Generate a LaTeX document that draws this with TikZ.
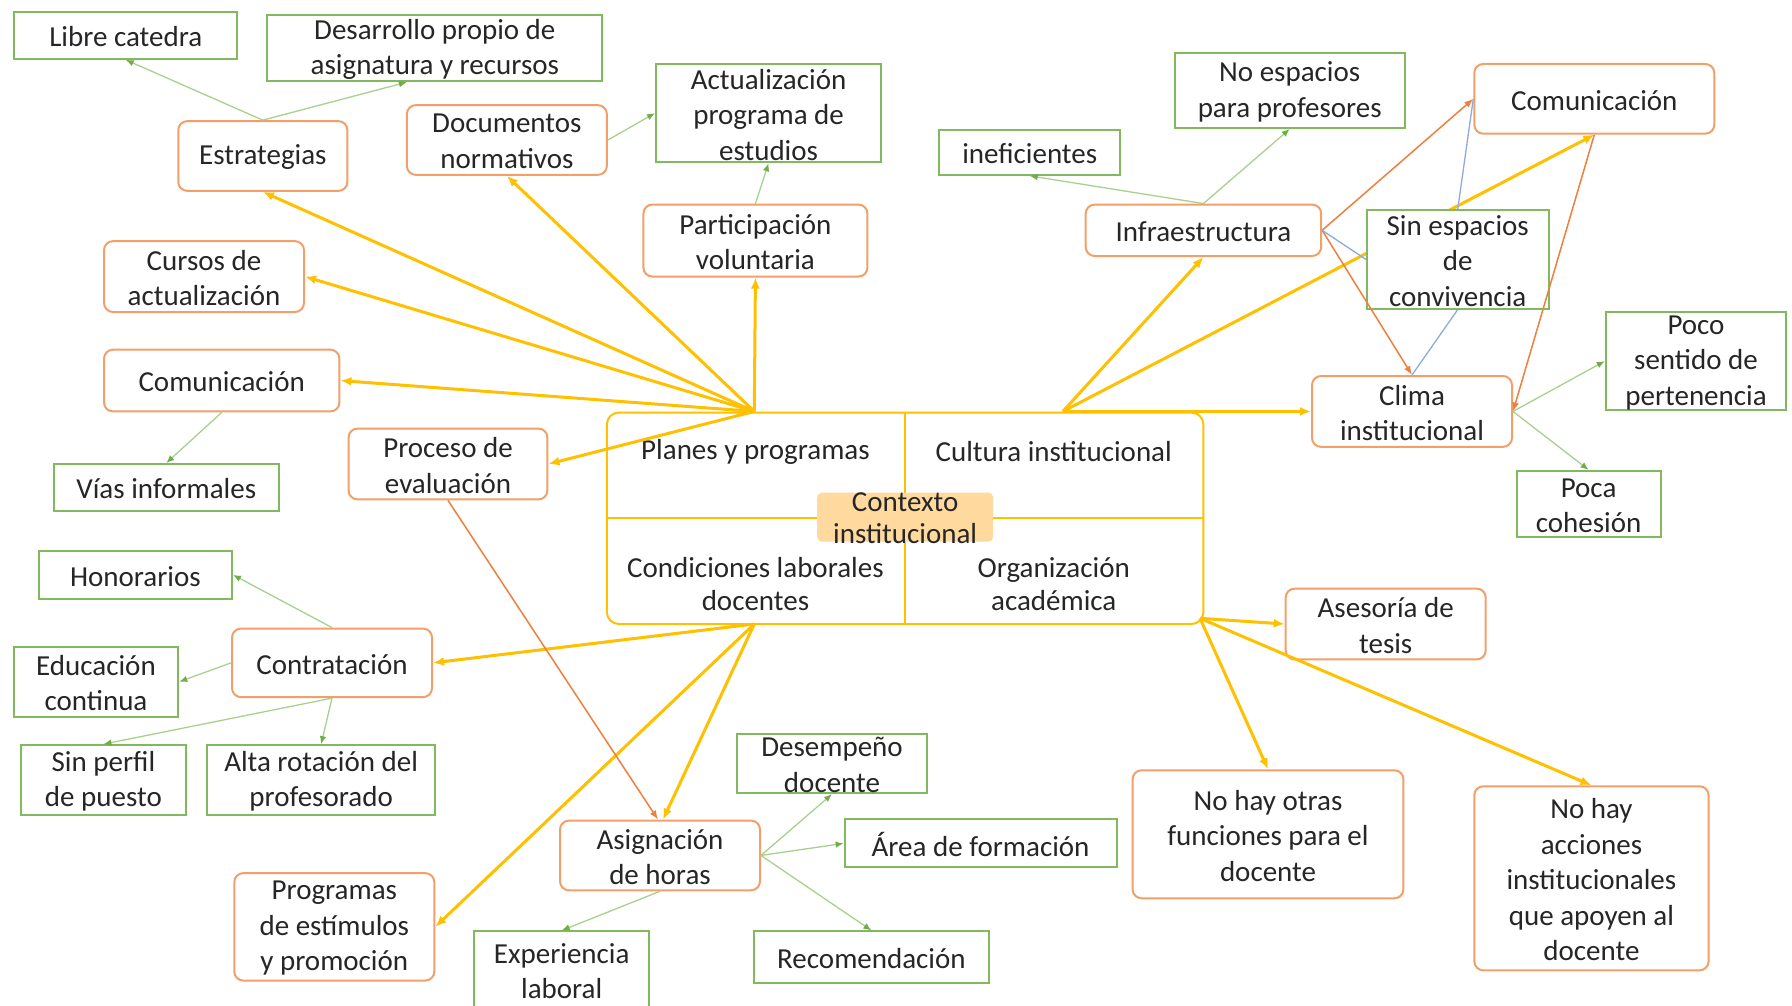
\documentclass[tikz,border=0pt]{standalone}
\usepackage{fontspec}
\setmainfont{Carlito}
\usetikzlibrary{arrows.meta,calc}
\pgfdeclarelayer{background}
\pgfdeclarelayer{bottom}
\pgfsetlayers{bottom,background,main}
\definecolor{yel}{RGB}{255,192,0}
\definecolor{orb}{RGB}{242,160,105}
\definecolor{orl}{RGB}{238,128,62}
\definecolor{grb}{RGB}{130,185,95}
\definecolor{grl}{RGB}{169,209,142}
\definecolor{grd}{RGB}{112,173,71}
\definecolor{blu}{RGB}{143,170,220}
\definecolor{ctxf}{RGB}{255,217,158}
\definecolor{tc}{RGB}{38,38,38}
\newcommand\mybox[6]{%
  \node[#1, minimum width={#3*1.142857pt}, minimum height={#4*1.142857pt}] (#2) at (#5) {};
  \node[txt] (#2t) at ([yshift=-1.5pt]#2.center) {#6};}
\begin{document}
\begin{tikzpicture}[x=1.142857pt,y=-1.142857pt,
  obox/.style={draw=orb, line width=2pt, rounded corners=9pt, fill=white, inner sep=0pt},
  gbox/.style={draw=grb, line width=2pt, fill=white, inner sep=0pt},
  txt/.style={font=\fontsize{29}{35.4}\selectfont, align=center, inner sep=0pt, text=tc},
  yarr/.style={draw=yel, line width=3pt, -{Latex[length=11pt,width=9pt]}},
  oarr/.style={draw=orl, line width=1.5pt, -{Latex[length=9pt,width=7pt]}},
  garr/.style={draw=grl, line width=1.3pt, -{Latex[length=8pt,width=6.5pt,color=grd]}},
  bl/.style={draw=blu, line width=1.3pt}]
\begin{pgfonlayer}{bottom}
\fill[white] (0,0) rectangle (1568,880);
\end{pgfonlayer}
\useasboundingbox (0,0) rectangle (1568,880);

% central box
\node[draw=yel, line width=2pt, rounded corners=12pt, minimum width={522*1.142857pt}, minimum height={185*1.142857pt}, inner sep=0pt] (ctx) at (792,453.5) {};
\draw[yel, line width=2pt] (ctx.north) -- (ctx.south);
\draw[yel, line width=2pt] (ctx.west) -- (ctx.east);
\node[fill=ctxf, rounded corners=5pt, minimum width={154*1.142857pt}, minimum height={43*1.142857pt}, inner sep=0pt] (ctxbg) at (792,452.5) {};
\node[txt, font=\fontsize{29}{32}\selectfont] (ctxt) at ([yshift=-1.5pt]ctxbg.center) {Contexto\\institucional};
\node[txt] (plan) at (661,395.5) {Planes y programas};
\node[txt] (cult) at (922,395.5) {Cultura institucional};
\node[txt, font=\fontsize{29}{33}\selectfont] (cond) at (661,511) {Condiciones laborales\\docentes};
\node[txt, font=\fontsize{29}{33}\selectfont] (orga) at (922,511) {Organización\\académica};

\coordinate (hPP) at (660,360);
\coordinate (hCI) at (930,360);
\coordinate (hCL) at (660,546);
\coordinate (hOA) at (1050,541);

% boxes
\mybox{gbox}{libre}{195}{41}{110,31}{Libre catedra}
\mybox{gbox}{desa}{293}{58}{380.5,42}{Desarrollo propio de\\asignatura y recursos}
\mybox{obox}{estr}{148}{61}{230,136.5}{Estrategias}
\mybox{obox}{docu}{175}{61}{443.5,122.5}{Documentos\\normativos}
\mybox{gbox}{actu}{197}{86}{672.5,99}{Actualización\\programa de\\estudios}
\mybox{obox}{part}{196}{63}{661,210.5}{Participación\\voluntaria}
\mybox{obox}{curs}{175}{62}{178.5,242}{Cursos de\\actualización}
\mybox{obox}{comL}{206}{54}{194,333}{Comunicación}
\mybox{gbox}{vias}{197}{41}{145.5,426.5}{Vías informales}
\mybox{obox}{proc}{174}{62}{392,406}{Proceso de\\evaluación}
\mybox{gbox}{inef}{158}{39}{901,133.5}{ineficientes}
\mybox{gbox}{noesp}{201}{66}{1128.5,79}{No espacios\\para profesores}
\mybox{obox}{comR}{210}{61}{1395,86.5}{Comunicación}
\mybox{obox}{infra}{206}{45}{1053,201.5}{Infraestructura}
\mybox{gbox}{sines}{159}{86}{1275.5,227}{Sin espacios\\de\\convivencia}
\mybox{gbox}{poco}{158}{86}{1484,316}{Poco\\sentido de\\pertenencia}
\mybox{obox}{clima}{175}{62}{1235.5,360}{Clima\\institucional}
\mybox{gbox}{poca}{126}{58}{1390,441}{Poca\\cohesión}
\mybox{gbox}{hono}{169}{42}{118.5,503}{Honorarios}
\mybox{obox}{contr}{175}{60}{290.5,580}{Contratación}
\mybox{gbox}{educ}{144}{61}{84,596.5}{Educación\\continua}
\mybox{gbox}{sinp}{145}{61}{90.5,682.5}{Sin perfil\\de puesto}
\mybox{gbox}{alta}{200}{61}{281,682.5}{Alta rotación del\\profesorado}
\mybox{obox}{prog}{175}{94}{292.5,811}{Programas\\de estímulos\\y promoción}
\mybox{obox}{asig}{175}{61}{577.5,748.5}{Asignación\\de horas}
\mybox{gbox}{dese}{166}{52}{728,668}{Desempeño\\docente}
\mybox{gbox}{area}{238}{42}{858,738}{Área de formación}
\mybox{gbox}{expe}{153}{67}{491.5,848.5}{Experiencia\\laboral}
\mybox{gbox}{reco}{205}{45}{762.5,837.5}{Recomendación}
\mybox{obox}{ases}{175}{62}{1212.5,546}{Asesoría de\\tesis}
\mybox{obox}{otras}{237}{112}{1109.5,730}{No hay otras\\funciones para el\\docente}
\mybox{obox}{acci}{205}{161}{1392.5,768.5}{No hay\\acciones\\institucionales\\que apoyen al\\docente}

% yellow connectors
\begin{pgfonlayer}{background}
\draw[yarr] (hCI) -- (comR.south);
\end{pgfonlayer}
\draw[yarr] (hPP) -- (estr.south);
\draw[yarr] (hPP) -- (docu.south);
\draw[yarr] (hPP) -- (part.south);
\draw[yarr] (hPP) -- (curs.east);
\draw[yarr] (hPP) -- (comL.east);
\draw[yarr] (hPP) -- (proc.east);
\draw[yarr] (hCI) -- (infra.south);
\draw[yarr] (hCI) -- (clima.west);
\draw[yarr] (hCL) -- (contr.east);
\draw[yarr] (hCL) -- ([xshift=3pt]asig.north);
\draw[yarr] (hCL) -- (prog.east);
\draw[yarr] (hOA) -- (ases.west);
\draw[yarr] (hOA) -- (otras.north);
\draw[yarr] (hOA) -- (acci.north);

% orange connectors
\draw[oarr] (proc.south) -- ([xshift=-2pt]asig.north);
\draw[oarr] (infra.east) -- (comR.west);
\draw[oarr] (infra.east) -- (clima.north);
\draw[oarr] (comR.south) -- (clima.east);

% blue connectors
\draw[bl] (infra.east) -- (sines.west);
\draw[bl] (sines.north) -- (comR.west);
\draw[bl] (sines.south) -- (clima.north);

% green connectors
\draw[garr] (estr.north) -- (libre.south);
\draw[garr] (estr.north) -- ([xshift=-28pt]desa.south);
\draw[garr] (docu.east) -- (actu.west);
\draw[garr] (part.north) -- (actu.south);
\draw[garr] (comL.south) -- (vias.north);
\draw[garr] (infra.north) -- (inef.south);
\draw[garr] (infra.north) -- (noesp.south);
\draw[garr] (clima.east) -- (poco.west);
\draw[garr] (clima.east) -- (poca.north);
\draw[garr] (contr.north) -- (hono.east);
\draw[garr] (contr.west) -- (educ.east);
\draw[garr] (contr.south) -- (sinp.north);
\draw[garr] (contr.south) -- (alta.north);
\draw[garr] (asig.east) -- (dese.south);
\draw[garr] (asig.east) -- (area.west);
\draw[garr] (asig.east) -- (reco.north);
\draw[garr] (asig.south) -- (expe.north);
\end{tikzpicture}
\end{document}
